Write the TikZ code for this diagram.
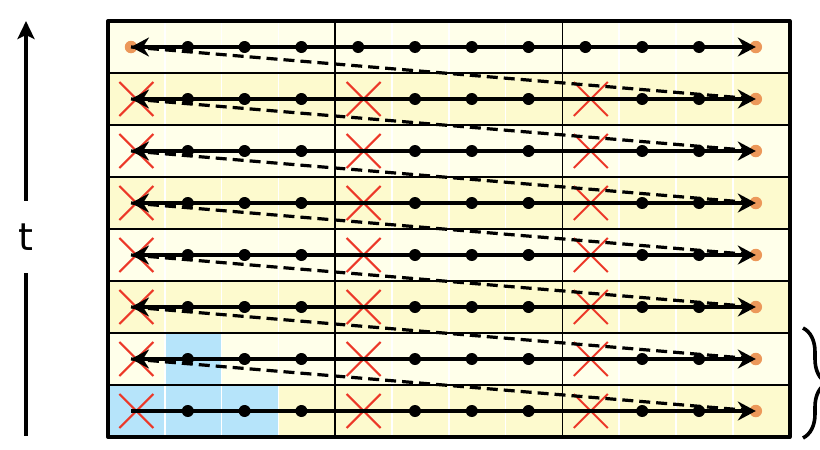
\documentclass[tikz,border=0pt]{standalone}
\usepackage{fontspec}
\newfontfamily\tfont{DejaVu Sans}
\usetikzlibrary{arrows.meta,shapes.misc,decorations.pathreplacing}
\definecolor{cellpale}{RGB}{255,255,234}
\definecolor{cellyel}{RGB}{253,250,206}
\definecolor{cellblue}{RGB}{182,228,250}
\definecolor{crossred}{RGB}{236,56,40}
\definecolor{dotorange}{RGB}{236,152,90}
\begin{document}
\begin{tikzpicture}[x=1pt,y=-1pt,>={Stealth[length=18pt,width=19pt,inset=6pt]},line join=round,
	dot/.style={circle,fill=black,inner sep=0pt,minimum size=12pt},
	enddot/.style={circle,fill=dotorange,inner sep=0pt,minimum size=12.5pt},
	miss/.style={cross out,draw=crossred,line width=2pt,inner sep=0pt,minimum size=32pt},
	sweep/.style={line width=3.2pt},
	jump/.style={line width=3.2pt,dash pattern=on 11pt off 6pt}]
	\def\xo{108} \def\yo{21} % Góc trên trái
	\def\cw{56.8} \def\rh{52}
	\def\dx{131}
	\useasboundingbox (0,0) rectangle (820,450);
	\clip (0,0) rectangle (820,450);
	% nền các ô
	\foreach \r in {1,...,8}{
		\ifodd\r \def\cc{cellpale}\else \def\cc{cellyel}\fi
		\fill[\cc] (\xo,{\yo+(\r-1)*\rh}) rectangle ++({12*\cw},\rh);
	}
	\fill[cellblue] ({\xo+\cw},{\yo+6*\rh}) rectangle ++(\cw,\rh);
	\fill[cellblue] (\xo,{\yo+7*\rh}) rectangle ++({3*\cw},\rh);
	\foreach \c in {1,2,3,5,6,7,9,10,11}
		\draw[white,line width=1.5pt] ({\xo+\c*\cw},\yo) -- ++(0,{8*\rh});
	\foreach \r in {1,...,7}
		\draw[line width=1.7pt] (\xo,{\yo+\r*\rh}) -- ++({12*\cw},0);
	\foreach \c in {4,8}
		\draw[line width=1.7pt] ({\xo+\c*\cw},\yo) -- ++(0,{8*\rh});
	\draw[line width=4pt] (\xo,\yo) rectangle ++({12*\cw},{8*\rh});
	% dấu gạch chéo
	\foreach \r in {2,...,8}
		\foreach \c in {0,4,8}
			\node[miss] (x-\r-\c) at ({\xo+(\c+0.5)*\cw},{\yo+(\r-0.5)*\rh}) {};
	% đầu mút mỗi hàng
	\foreach \r in {1,...,8}{
		\coordinate (L\r) at (\dx,{\yo+(\r-0.5)*\rh});
		\coordinate (R\r) at ({\dx+11*\cw},{\yo+(\r-0.5)*\rh});
		\node[enddot] (o\r) at (R\r) {};
	}
	\node[enddot] (o0) at (L1) {};
	\foreach \r [evaluate=\r as \s using int(\r+1)] in {1,...,7}
		\draw[jump] (L\r) -- (R\s);
	\foreach \r in {1,...,7}
		\draw[sweep,<->] (L\r) -- (R\r);
	\draw[sweep,->] (L8) -- (R8);
	\foreach \r in {1,...,8}
		\foreach \c in {1,...,10}{
			\ifnum\r=1 \node[dot] (d-\r-\c) at ({\dx+\c*\cw},{\yo+(\r-0.5)*\rh}) {};
			\else
				\ifnum\c=4 \else \ifnum\c=8 \else
					\node[dot] (d-\r-\c) at ({\dx+\c*\cw},{\yo+(\r-0.5)*\rh}) {};
				\fi\fi
			\fi
		}
	% trục thời gian
	\node[font=\tfont\fontsize{38}{40}\selectfont,inner sep=0pt,minimum height=72pt] (tlab) at (26,237) {t};
	\coordinate (ttop) at (26,21);
	\coordinate (tbot) at (26,436);
	\draw[line width=3.6pt,-{Stealth[length=18pt,width=17pt,inset=4pt]}] (tlab.north) -- (ttop);
	\draw[line width=3.6pt] (tlab.south) -- (tbot);
	% ngoặc
	\coordinate (btop) at (803,328);
	\coordinate (bbot) at (803,438);
	\draw[line width=3.6pt,decorate,decoration={brace,amplitude=24pt}] (btop) -- (bbot);
\end{tikzpicture}
\end{document}
